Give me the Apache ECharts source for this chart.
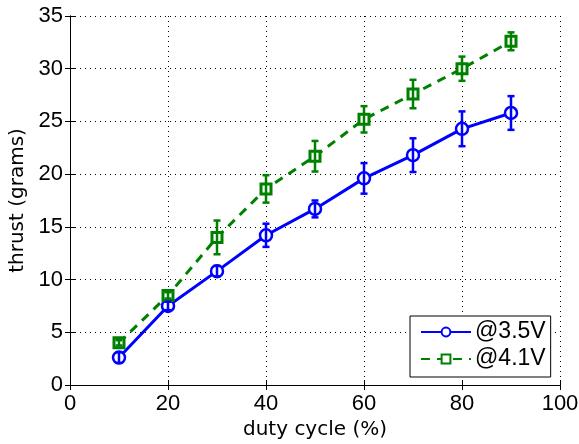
<!DOCTYPE html>
<html><head><meta charset="utf-8">
<script src="https://cdn.jsdelivr.net/npm/echarts@6/dist/echarts.min.js"></script>
<style>html,body{margin:0;padding:0;background:#fff}#c{width:579px;height:444px}</style>
</head><body><div id="c"></div>
<script>
const dutyCycle = [10, 20, 30, 40, 50, 60, 70, 80, 90];
const thrust35 = [2.6, 7.5, 10.8, 14.2, 16.7, 19.6, 21.8, 24.3, 25.8];
const err35 = [0.5, 0.4, 0.5, 1.1, 0.8, 1.45, 1.6, 1.65, 1.6];
const thrust41 = [4.0, 8.5, 14.0, 18.6, 21.7, 25.2, 27.6, 30.0, 32.6];
const err41 = [0.25, 0.3, 1.6, 1.3, 1.45, 1.25, 1.35, 1.15, 0.85];
const xTicks = [0, 20, 40, 60, 80, 100];
const yTicks = [0, 5, 10, 15, 20, 25, 30, 35];

const BLUE = '#0000ff', GREEN = '#008000';
const font = 'Liberation Sans, Arial, Helvetica, sans-serif';
const titleFont = 'DejaVu Sans, Liberation Sans, sans-serif';

function errData(ys, es) {
  return dutyCycle.map((x, i) => [x, ys[i] - es[i], ys[i] + es[i]]);
}
function errRender(color) {
  return function (params, api) {
    const x = api.value(0);
    const lo = api.coord([x, api.value(1)]);
    const hi = api.coord([x, api.value(2)]);
    const w = 3.5;
    const st = { stroke: color, lineWidth: 2.5 };
    return { type: 'group', children: [
      { type: 'line', shape: { x1: lo[0], y1: lo[1], x2: hi[0], y2: hi[1] }, style: st },
      { type: 'line', shape: { x1: lo[0] - w, y1: lo[1], x2: lo[0] + w, y2: lo[1] }, style: st },
      { type: 'line', shape: { x1: hi[0] - w, y1: hi[1], x2: hi[0] + w, y2: hi[1] }, style: st }
    ]};
  };
}

const chart = echarts.init(document.getElementById('c'), null, { renderer: 'canvas' });
const axisCommon = {
  type: 'value',
  axisLine: { show: true, lineStyle: { color: '#000', width: 1 } },
  axisTick: { show: true, inside: true, length: 5, lineStyle: { color: '#000' } },
  splitLine: { show: false }
};
chart.setOption({
  animation: false,
  backgroundColor: '#fff',
  grid: { left: 70, right: 19, top: 16, bottom: 59, containLabel: false, outerBoundsMode: 'none' },
  xAxis: [
    Object.assign({}, axisCommon, {
      min: xTicks[0], max: xTicks[xTicks.length - 1], interval: 20,
      name: 'duty cycle (%)', nameLocation: 'middle', nameGap: 32,
      nameTextStyle: { fontFamily: titleFont, fontSize: 20, color: '#000' },
      axisLabel: { fontFamily: font, fontSize: 22, color: '#000', margin: 8 },
      splitLine: { show: true, lineStyle: { color: '#000', width: 1, type: [1, 4] } }
    }),
    Object.assign({}, axisCommon, {
      position: 'top', min: 0, max: 100, interval: 20, axisLabel: { show: false }
    })
  ],
  yAxis: [
    Object.assign({}, axisCommon, {
      min: yTicks[0], max: yTicks[yTicks.length - 1], interval: 5,
      name: 'thrust (grams)', nameLocation: 'middle', nameGap: 39,
      nameTextStyle: { fontFamily: titleFont, fontSize: 20, color: '#000' },
      axisLabel: { fontFamily: font, fontSize: 22, color: '#000', margin: 7 },
      splitLine: { show: true, lineStyle: { color: '#000', width: 1, type: [1, 4] } }
    }),
    Object.assign({}, axisCommon, {
      position: 'right', min: 0, max: 35, interval: 5, axisLabel: { show: false }
    })
  ],
  legend: {
    left: 410, top: 316, orient: 'vertical',
    backgroundColor: '#fff', borderColor: '#000', borderWidth: 1, borderRadius: 0,
    padding: [3, 5, 5, 10], itemGap: 1, itemWidth: 50, itemHeight: 11,
    textStyle: { fontFamily: font, fontSize: 23, lineHeight: 26, color: '#000', padding: [0, 0, 0, -1] },
    data: ['@3.5V', '@4.1V']
  },
  series: [
    {
      name: '@3.5V', type: 'line', data: dutyCycle.map((x, i) => [x, thrust35[i]]),
      symbol: 'circle', symbolSize: 12, showAllSymbol: true,
      lineStyle: { color: BLUE, width: 3 },
      itemStyle: { color: '#fff', borderColor: BLUE, borderWidth: 2.5 },
      z: 3
    },
    {
      name: '@4.1V', type: 'line', data: dutyCycle.map((x, i) => [x, thrust41[i]]),
      symbol: 'rect', symbolSize: 10, showAllSymbol: true,
      lineStyle: { color: GREEN, width: 3, type: [9, 7] },
      itemStyle: { color: '#fff', borderColor: GREEN, borderWidth: 3 },
      z: 3
    },
    {
      type: 'custom', data: errData(thrust35, err35), renderItem: errRender(BLUE),
      encode: { x: 0, y: [1, 2] }, z: 4, silent: true
    },
    {
      type: 'custom', data: errData(thrust41, err41), renderItem: errRender(GREEN),
      encode: { x: 0, y: [1, 2] }, z: 4, silent: true
    }
  ]
});
</script></body></html>
